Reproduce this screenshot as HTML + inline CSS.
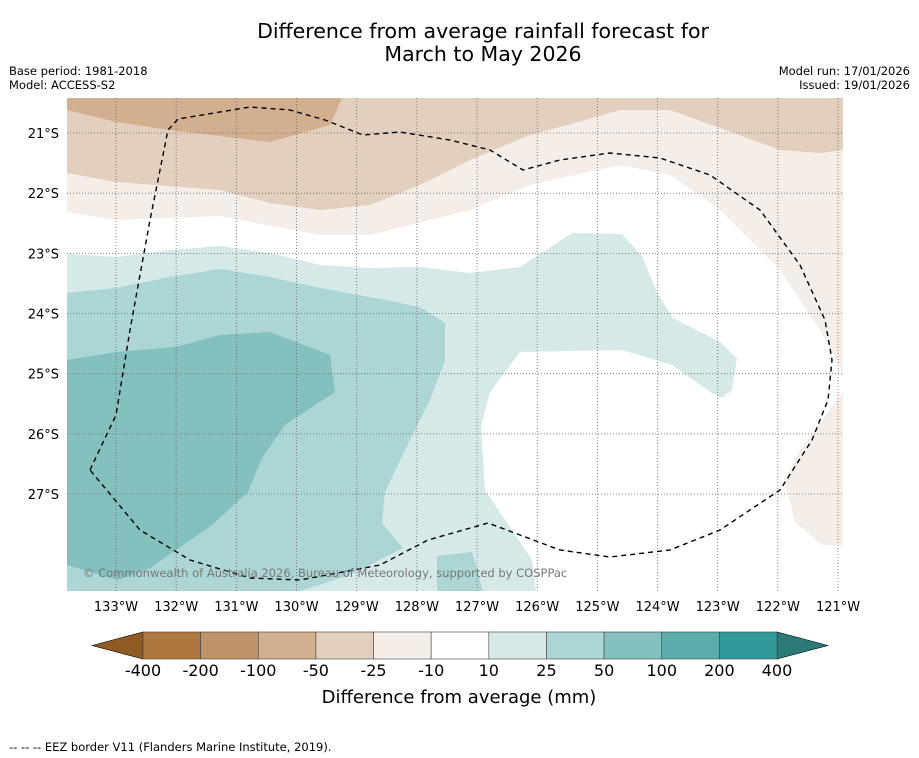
<!DOCTYPE html>
<html><head><meta charset="utf-8"><style>
body{margin:0;background:#fff;font-family:"DejaVu Sans","Liberation Sans",sans-serif}
svg{display:block}
</style></head><body>
<svg id="c" width="919" height="758" xmlns="http://www.w3.org/2000/svg">
<text x="483" y="38" font-size="20.5" text-anchor="middle">Difference from average rainfall forecast for</text>
<text x="483" y="61" font-size="20.5" text-anchor="middle">March to May 2026</text>
<text x="9" y="75" font-size="11.5">Base period: 1981-2018</text>
<text x="9" y="89" font-size="11.5">Model: ACCESS-S2</text>
<text x="910" y="75" font-size="11.5" text-anchor="end">Model run: 17/01/2026</text>
<text x="910" y="89" font-size="11.5" text-anchor="end">Issued: 19/01/2026</text>
<defs><clipPath id="mc"><rect x="67" y="98" width="776" height="493"/></clipPath></defs>
<g id="map" clip-path="url(#mc)">
<rect x="67" y="98" width="776" height="493" fill="#fff"/>
<polygon fill="#f5ede7" points="67,98 67,212 116,220 220,216 320,235 370,235 470,210 530,185 620,165 670,175 720,210 780,270 820,330 843,372 843,98"/>
<polygon fill="#f5ede7" points="843,392 800,450 785,482 795,522 822,545 843,545"/>
<polygon fill="#e3cfbd" points="67,98 67,173 116,182 220,190 270,203 320,210 370,205 420,185 470,160 530,135 575,123 620,110 670,110 720,128 780,150 820,153 843,150 843,98"/>
<polygon fill="#d2b08f" points="67,98 67,110 116,122 170,130 270,142 330,125 342,98"/>
<polygon fill="#d5e9e8" points="67,254 116,257 170,250 220,246 270,253 320,265 370,268 420,267 470,273 520,267 572,233 622,234 642,256 657,292 673,318 720,342 737,358 732,390 722,398 712,393 672,365 622,350 520,352 490,392 481,427 485,490 512,530 532,560 536,591 67,591"/>
<polygon fill="#acd6d5" points="67,293 116,288 170,277 220,269 270,277 320,288 370,297 420,307 445,323 445,360 430,400 405,450 385,492 382,523 403,548 350,575 300,591 67,591"/>
<polygon fill="#acd6d5" points="437,556 472,552 483,591 437,591"/>
<polygon fill="#84c0be" points="67,360 116,352 175,347 220,335 270,332 330,355 335,392 285,425 262,458 248,492 212,525 150,568 118,580 67,565"/>
<g id="grid"></g>
<polyline fill="none" stroke="#000" stroke-width="1.4" stroke-dasharray="5,4" points="90,470 116,415 130,330 150,220 168,130 178,119 250,107 290,110 325,120 363,135 400,132 450,140 490,150 523,170 560,160 610,153 660,158 710,175 760,210 800,265 825,320 832,360 828,400 812,440 780,490 720,530 670,550 610,557 560,550 520,535 488,523 428,540 380,565 300,580 250,578 190,560 140,530 90,470"/>
<text x="83" y="577" font-size="11.5" fill="#777">© Commonwealth of Australia 2026, Bureau of Meteorology, supported by COSPPac</text>
</g>
<g id="ticks"></g>
<g id="cbar"></g>
<text x="459" y="703" font-size="18" text-anchor="middle">Difference from average (mm)</text>
<text x="9" y="751" font-size="11.5">--  --  -- EEZ border V11 (Flanders Marine Institute, 2019).</text>
</svg>
<script>
const lonTicks=[-133,-132,-131,-130,-129,-128,-127,-126,-125,-124,-123,-122,-121];
const latTicks=[-21,-22,-23,-24,-25,-26,-27];
const cbLevels=["-400","-200","-100","-50","-25","-10","10","25","50","100","200","400"];
const cbColors=["#ae773f","#c09468","#d2b08f","#e3cfbd","#f5ede7","#ffffff","#d5e9e8","#acd6d5","#84c0be","#5aadab","#32999a"];
const NS="http://www.w3.org/2000/svg";
const deg=60.17;
function xs(lon){return 116+(lon+133)*deg;}
function ys(lat){return 133+(-21-lat)*deg;}
function mk(t,a,p){const e=document.createElementNS(NS,t);for(const k in a)e.setAttribute(k,a[k]);p.appendChild(e);return e;}
const gridG=document.getElementById('grid'),ticksG=document.getElementById('ticks');
lonTicks.forEach(l=>{
  const x=xs(l);
  const g=mk('line',{x1:x,x2:x,y1:98,y2:591,stroke:'#666','stroke-width':0.8,'stroke-dasharray':'1,2'},gridG);
  
  
  const t=mk('text',{x:x,y:611,'font-size':13,'text-anchor':'middle'},ticksG);
  t.textContent=Math.abs(l)+'°W';
  
  
});
latTicks.forEach(l=>{
  const y=ys(l);
  const g=mk('line',{x1:67,x2:843,y1:y,y2:y,stroke:'#666','stroke-width':0.8,'stroke-dasharray':'1,2'},gridG);
  
  
  const t=mk('text',{x:59,y:y+5,'font-size':13,'text-anchor':'end'},ticksG);
  t.textContent=Math.abs(l)+'°S';
  
  
});
const cbG=document.getElementById('cbar');
const cx0=143,cx1=777,cw=(cx1-cx0)/cbColors.length,cTop=632,cH=27;
const la=mk('polygon',{points:`92,${cTop+cH/2} ${cx0},${cTop} ${cx0},${cTop+cH}`,fill:'#8f5a24',stroke:'#000','stroke-width':0.6},cbG);


const ra=mk('polygon',{points:`828,${cTop+cH/2} ${cx1},${cTop} ${cx1},${cTop+cH}`,fill:'#2b7a78',stroke:'#000','stroke-width':0.6},cbG);


cbColors.forEach((c,i)=>{
  const r=mk('rect',{x:cx0+i*cw,y:cTop,width:cw,height:cH,fill:c,stroke:'#444','stroke-width':0.6},cbG);
  
  
});
cbLevels.forEach((v,i)=>{
  const t=mk('text',{x:cx0+i*cw,y:676,'font-size':16,'text-anchor':'middle'},cbG);
  t.textContent=v;
  
  
});
</script>
</body></html>
